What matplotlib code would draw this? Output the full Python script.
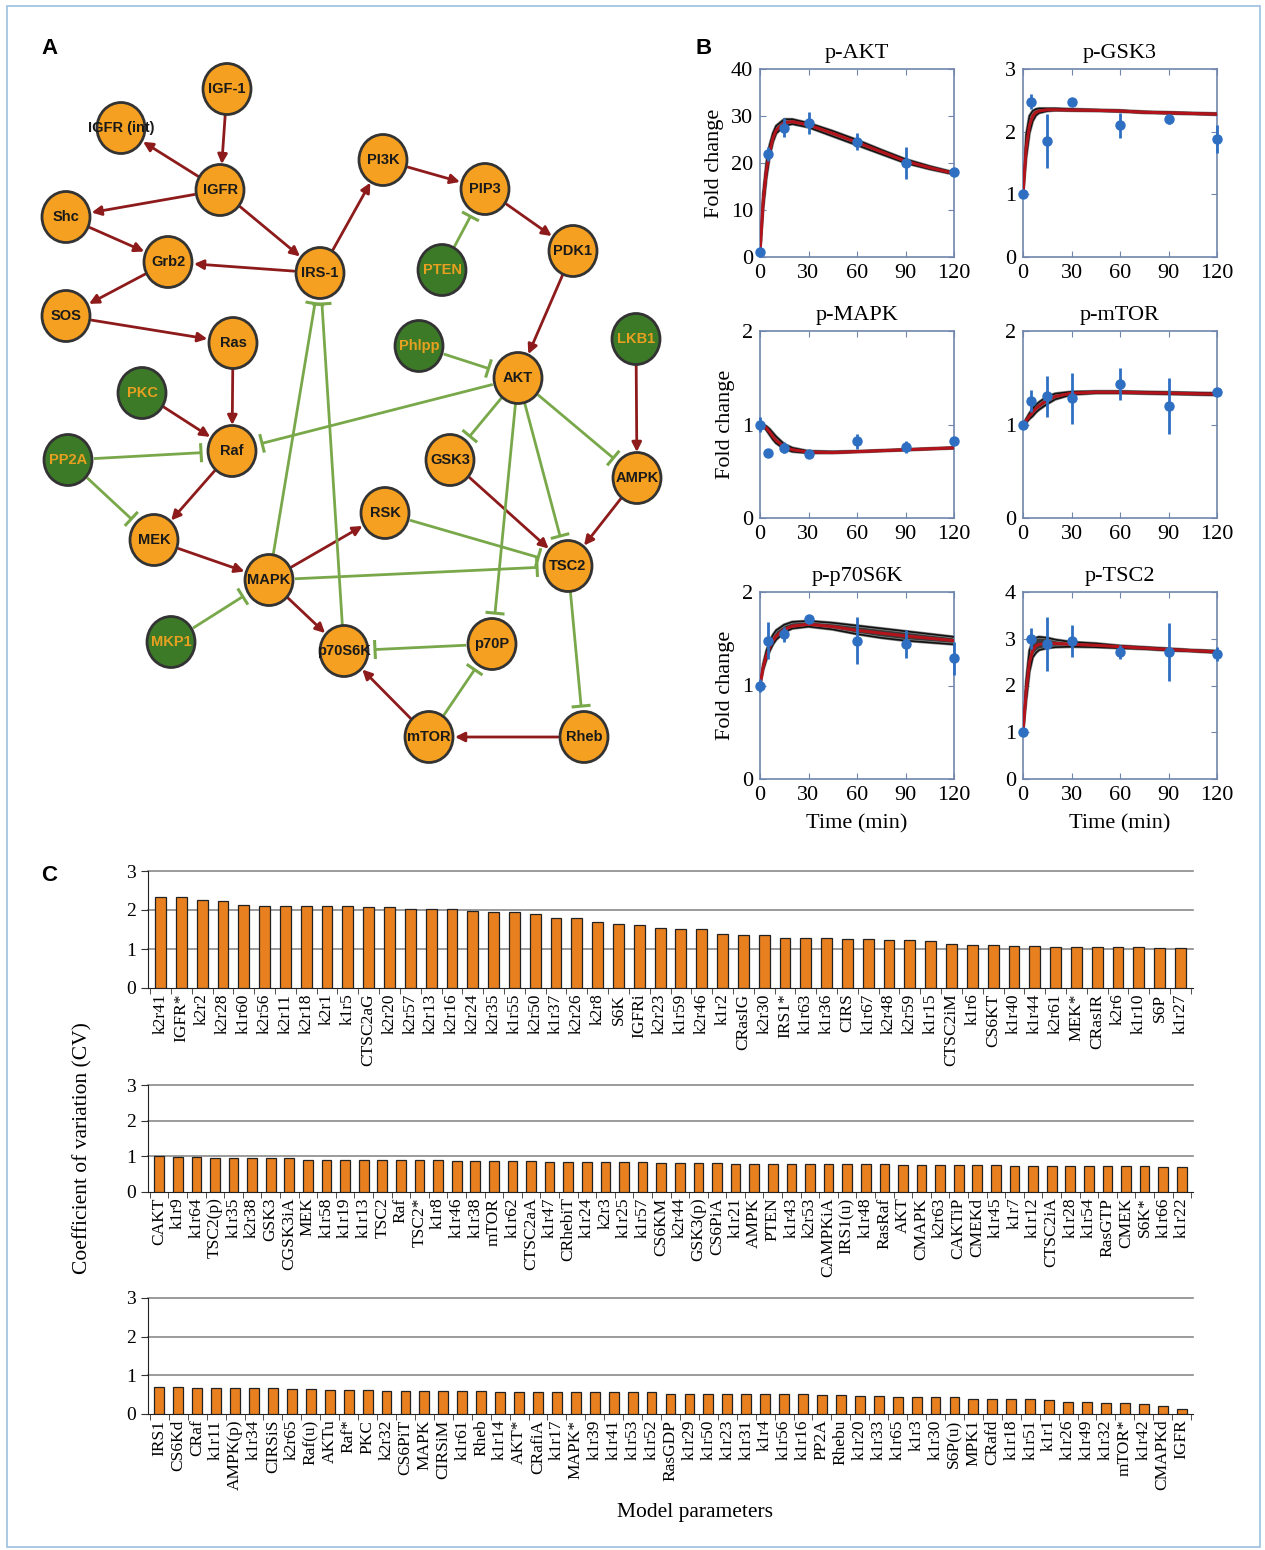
import matplotlib
matplotlib.use('Agg')
import matplotlib.pyplot as plt
from matplotlib.patches import Ellipse, FancyArrowPatch, Rectangle
import numpy as np

plt.rcParams['font.family'] = ['Liberation Serif', 'DejaVu Serif']

# ---------------- Panel A: network ----------------
act_nodes = ['IGF-1', 'IGFR (int)', 'IGFR', 'Shc', 'Grb2', 'SOS', 'IRS-1', 'PI3K', 'PIP3', 'PDK1',
             'Ras', 'AKT', 'Raf', 'GSK3', 'AMPK', 'MEK', 'RSK', 'MAPK', 'TSC2', 'p70S6K', 'p70P',
             'mTOR', 'Rheb']
inh_nodes = ['PTEN', 'PKC', 'Phlpp', 'LKB1', 'PP2A', 'MKP1']
activations = [('IGF-1', 'IGFR'), ('IGFR', 'IGFR (int)'), ('IGFR', 'Shc'), ('IGFR', 'IRS-1'),
               ('Shc', 'Grb2'), ('IRS-1', 'Grb2'), ('Grb2', 'SOS'), ('SOS', 'Ras'),
               ('IRS-1', 'PI3K'), ('PI3K', 'PIP3'), ('PIP3', 'PDK1'), ('PDK1', 'AKT'),
               ('Ras', 'Raf'), ('PKC', 'Raf'), ('Raf', 'MEK'), ('MEK', 'MAPK'), ('MAPK', 'RSK'),
               ('MAPK', 'p70S6K'), ('LKB1', 'AMPK'), ('GSK3', 'TSC2'), ('AMPK', 'TSC2'),
               ('Rheb', 'mTOR'), ('mTOR', 'p70S6K')]
inhibitions = [('PTEN', 'PIP3'), ('Phlpp', 'AKT'), ('AKT', 'Raf'), ('PP2A', 'Raf'), ('PP2A', 'MEK'),
               ('AKT', 'GSK3'), ('AKT', 'AMPK'), ('AKT', 'TSC2'), ('AKT', 'p70P'),
               ('MAPK', 'IRS-1'), ('p70S6K', 'IRS-1'), ('RSK', 'TSC2'), ('MAPK', 'TSC2'),
               ('MKP1', 'MAPK'), ('p70P', 'p70S6K'), ('mTOR', 'p70P'), ('TSC2', 'Rheb')]

# layout (pixel positions of node centres)
layout = {'IGF-1': (227, 89), 'IGFR (int)': (121, 128), 'IGFR': (220, 190), 'Shc': (66, 217),
          'Grb2': (168, 262), 'SOS': (66, 316), 'IRS-1': (320, 273), 'PI3K': (383, 160),
          'PIP3': (485, 189), 'PDK1': (573, 251), 'PTEN': (442, 270), 'Ras': (233, 343),
          'PKC': (142, 393), 'Phlpp': (419, 346), 'AKT': (518, 378), 'LKB1': (636, 339),
          'Raf': (232, 451), 'PP2A': (68, 460), 'GSK3': (450, 460), 'AMPK': (637, 478),
          'MEK': (154, 540), 'RSK': (385, 513), 'MAPK': (269, 580), 'TSC2': (568, 566),
          'MKP1': (171, 642), 'p70S6K': (344, 651), 'p70P': (492, 644), 'mTOR': (429, 737),
          'Rheb': (584, 737)}

# ---------------- Panel B: time courses ----------------
t_data = [0, 5, 15, 30, 60, 90, 120]
t_model = [0, 2, 4, 6, 8, 10, 15, 20, 30, 45, 60, 75, 90, 105, 120]

akt_data = [1, 22, 27.5, 28.5, 24.5, 20, 18]
akt_err = [0.3, 1.5, 2.0, 2.3, 1.8, 3.5, 0.5]
akt_mean = [1, 12, 18.5, 22.5, 25.3, 27, 28.6, 28.8, 28.1, 26.3, 24.4, 22.4, 20.4, 19.0, 17.8]
akt_lo = [1, 10.5, 17, 21.5, 24.5, 26.3, 27.9, 28.3, 27.6, 25.7, 23.8, 21.9, 20.0, 18.7, 17.6]
akt_hi = [1, 13.5, 20, 23.8, 26.3, 27.9, 29.3, 29.3, 28.5, 26.8, 24.9, 22.8, 20.8, 19.3, 18.0]

gsk_data = [1.0, 2.48, 1.85, 2.48, 2.1, 2.2, 1.88]
gsk_err = [0.05, 0.12, 0.43, 0.02, 0.2, 0.08, 0.22]
gsk_mean = [1, 1.75, 2.1, 2.25, 2.31, 2.33, 2.35, 2.35, 2.345, 2.34, 2.33, 2.31, 2.30, 2.29, 2.28]
gsk_lo = [1, 1.6, 1.98, 2.17, 2.26, 2.3, 2.33, 2.34, 2.335, 2.33, 2.32, 2.30, 2.29, 2.28, 2.27]
gsk_hi = [1, 1.95, 2.25, 2.33, 2.36, 2.37, 2.37, 2.37, 2.36, 2.35, 2.34, 2.32, 2.31, 2.30, 2.29]

mapk_data = [1.0, 0.69, 0.75, 0.68, 0.82, 0.76, 0.82]
mapk_err = [0.08, 0.02, 0.06, 0.03, 0.08, 0.06, 0.02]
mapk_mean = [1, 0.99, 0.96, 0.92, 0.87, 0.83, 0.76, 0.73, 0.705, 0.70, 0.71, 0.72, 0.73, 0.74, 0.75]
mapk_lo = [1, 0.98, 0.94, 0.89, 0.84, 0.80, 0.74, 0.71, 0.695, 0.695, 0.705, 0.715, 0.725, 0.735, 0.745]
mapk_hi = [1, 1.0, 0.98, 0.95, 0.91, 0.87, 0.79, 0.75, 0.715, 0.71, 0.715, 0.725, 0.735, 0.745, 0.755]

mtor_data = [1.0, 1.25, 1.3, 1.28, 1.43, 1.2, 1.35]
mtor_err = [0.02, 0.12, 0.22, 0.27, 0.17, 0.3, 0.02]
mtor_mean = [1, 1.04, 1.09, 1.13, 1.17, 1.2, 1.26, 1.3, 1.335, 1.345, 1.345, 1.34, 1.335, 1.33, 1.325]
mtor_lo = [1, 1.02, 1.06, 1.09, 1.13, 1.16, 1.22, 1.27, 1.32, 1.335, 1.335, 1.33, 1.325, 1.32, 1.315]
mtor_hi = [1, 1.06, 1.12, 1.17, 1.21, 1.24, 1.3, 1.33, 1.35, 1.355, 1.355, 1.35, 1.345, 1.34, 1.335]

s6k_data = [1.0, 1.48, 1.55, 1.71, 1.48, 1.44, 1.29]
s6k_err = [0.07, 0.2, 0.08, 0.02, 0.25, 0.15, 0.18]
s6k_mean = [1, 1.2, 1.32, 1.41, 1.48, 1.53, 1.6, 1.635, 1.655, 1.63, 1.59, 1.56, 1.53, 1.505, 1.48]
s6k_lo = [1, 1.17, 1.28, 1.37, 1.44, 1.49, 1.57, 1.61, 1.63, 1.6, 1.55, 1.51, 1.48, 1.46, 1.44]
s6k_hi = [1, 1.23, 1.37, 1.47, 1.54, 1.59, 1.65, 1.68, 1.69, 1.67, 1.64, 1.61, 1.58, 1.55, 1.52]

tsc_data = [1.0, 3.0, 2.88, 2.95, 2.72, 2.72, 2.68]
tsc_err = [0.05, 0.22, 0.58, 0.35, 0.15, 0.62, 0.15]
tsc_mean = [1, 1.9, 2.5, 2.75, 2.85, 2.88, 2.9, 2.9, 2.88, 2.86, 2.83, 2.8, 2.77, 2.745, 2.72]
tsc_lo = [1, 1.7, 2.3, 2.6, 2.7, 2.76, 2.8, 2.82, 2.83, 2.82, 2.8, 2.78, 2.75, 2.73, 2.7]
tsc_hi = [1, 2.1, 2.75, 2.95, 3.02, 3.04, 3.02, 2.98, 2.93, 2.9, 2.85, 2.82, 2.79, 2.76, 2.74]

titles_B = ['p-AKT', 'p-GSK3', 'p-MAPK', 'p-mTOR', 'p-p70S6K', 'p-TSC2']
ymax_B = [40, 3, 2, 2, 2, 4]
yticks_B = [[0, 10, 20, 30, 40], [0, 1, 2, 3], [0, 1, 2], [0, 1, 2], [0, 1, 2], [0, 1, 2, 3, 4]]
xticks_B = [0, 30, 60, 90, 120]

# ---------------- Panel C: CV bars ----------------
labels_c1 = ['k2r41', 'IGFR*', 'k2r2', 'k2r28', 'k1r60', 'k2r56', 'k2r11', 'k2r18', 'k2r1', 'k1r5',
             'CTSC2aG', 'k2r20', 'k2r57', 'k2r13', 'k2r16', 'k2r24', 'k2r35', 'k1r55', 'k2r50', 'k1r37',
             'k2r26', 'k2r8', 'S6K', 'IGFRi', 'k2r23', 'k1r59', 'k2r46', 'k1r2', 'CRasIG', 'k2r30',
             'IRS1*', 'k1r63', 'k1r36', 'CIRS', 'k1r67', 'k2r48', 'k2r59', 'k1r15', 'CTSC2iM', 'k1r6',
             'CS6KT', 'k1r40', 'k1r44', 'k2r61', 'MEK*', 'CRasIR', 'k2r6', 'k1r10', 'S6P', 'k1r27']
cv_c1 = [2.34, 2.34, 2.26, 2.24, 2.14, 2.11, 2.09, 2.09, 2.09, 2.09,
         2.07, 2.07, 2.02, 2.02, 2.02, 1.97, 1.94, 1.94, 1.91, 1.80,
         1.80, 1.69, 1.64, 1.62, 1.54, 1.51, 1.51, 1.39, 1.36, 1.36,
         1.29, 1.29, 1.29, 1.26, 1.26, 1.23, 1.22, 1.20, 1.13, 1.11,
         1.11, 1.08, 1.08, 1.06, 1.06, 1.06, 1.05, 1.05, 1.02, 1.02]
labels_c2 = ['CAKT', 'k1r9', 'k1r64', 'TSC2(p)', 'k1r35', 'k2r38', 'GSK3', 'CGSK3iA', 'MEK', 'k1r58',
             'k1r19', 'k1r13', 'TSC2', 'Raf', 'TSC2*', 'k1r8', 'k1r46', 'k1r38', 'mTOR', 'k1r62',
             'CTSC2aA', 'k1r47', 'CRhebiT', 'k1r24', 'k2r3', 'k1r25', 'k1r57', 'CS6KM', 'k2r44', 'GSK3(p)',
             'CS6PiA', 'k1r21', 'AMPK', 'PTEN', 'k1r43', 'k2r53', 'CAMPKiA', 'IRS1(u)', 'k1r48', 'RasRaf',
             'AKT', 'CMAPK', 'k2r63', 'CAKTiP', 'CMEKd', 'k1r45', 'k1r7', 'k1r12', 'CTSC2iA', 'k1r28',
             'k1r54', 'RasGTP', 'CMEK', 'S6K*', 'k1r66', 'k1r22']
cv_c2 = [1.01, 0.99, 0.99, 0.96, 0.96, 0.96, 0.94, 0.94, 0.90, 0.90,
         0.90, 0.89, 0.89, 0.89, 0.89, 0.89, 0.88, 0.88, 0.88, 0.88,
         0.88, 0.85, 0.85, 0.85, 0.85, 0.85, 0.85, 0.82, 0.82, 0.82,
         0.82, 0.79, 0.79, 0.79, 0.79, 0.79, 0.79, 0.79, 0.79, 0.79,
         0.76, 0.76, 0.75, 0.75, 0.75, 0.75, 0.73, 0.73, 0.73, 0.73,
         0.73, 0.73, 0.73, 0.73, 0.71, 0.71]
labels_c3 = ['IRS1', 'CS6Kd', 'CRaf', 'k1r11', 'AMPK(p)', 'k1r34', 'CIRSiS', 'k2r65', 'Raf(u)', 'AKTu',
             'Raf*', 'PKC', 'k2r32', 'CS6PiT', 'MAPK', 'CIRSiM', 'k1r61', 'Rheb', 'k1r14', 'AKT*',
             'CRafiA', 'k1r17', 'MAPK*', 'k1r39', 'k1r41', 'k1r53', 'k1r52', 'RasGDP', 'k1r29', 'k1r50',
             'k1r23', 'k1r31', 'k1r4', 'k1r56', 'k1r16', 'PP2A', 'Rhebu', 'k1r20', 'k1r33', 'k1r65',
             'k1r3', 'k1r30', 'S6P(u)', 'MPK1', 'CRafd', 'k1r18', 'k1r51', 'k1r1', 'k1r26', 'k1r49',
             'k1r32', 'mTOR*', 'k1r42', 'CMAPKd', 'IGFR']
cv_c3 = [0.69, 0.69, 0.67, 0.67, 0.67, 0.67, 0.67, 0.64, 0.64, 0.62,
         0.62, 0.62, 0.60, 0.60, 0.60, 0.60, 0.60, 0.60, 0.57, 0.57,
         0.57, 0.56, 0.56, 0.56, 0.56, 0.56, 0.56, 0.52, 0.52, 0.52,
         0.51, 0.51, 0.51, 0.51, 0.51, 0.48, 0.48, 0.46, 0.46, 0.43,
         0.43, 0.43, 0.43, 0.40, 0.40, 0.38, 0.38, 0.35, 0.31, 0.31,
         0.29, 0.29, 0.25, 0.20, 0.13]

# =====================================================================
W, H = 1265, 1550
fig = plt.figure(figsize=(W / 100, H / 100), dpi=100)

SANS = ['Liberation Sans', 'DejaVu Sans']
ORANGE = '#F5A020'
GREEN = '#3C7A28'
RED = '#8E1B1B'
LGREEN = '#79A84A'

axn = fig.add_axes([0, 0, 1, 1])
axn.set_xlim(0, W)
axn.set_ylim(H, 0)
axn.axis('off')

fig.patches.append(Rectangle((7 / W, 3 / H), 1 - 12 / W, 1 - 9 / H, transform=fig.transFigure,
                             fill=False, edgecolor='#9cbfe0', lw=1.2))

R = 26.0


def seg(a, b, ra, rb):
    p = np.array(layout[a], float)
    q = np.array(layout[b], float)
    u = (q - p) / np.linalg.norm(q - p)
    return p + u * ra, q - u * rb, u


for a, b in activations:
    p0, p1, u = seg(a, b, R, R)
    axn.add_patch(FancyArrowPatch(tuple(p0), tuple(p1), arrowstyle='-|>', mutation_scale=14,
                                  color=RED, lw=2.0, shrinkA=0, shrinkB=0, zorder=2))

for a, b in inhibitions:
    p0, p1, u = seg(a, b, R, R + 5)
    axn.plot([p0[0], p1[0]], [p0[1], p1[1]], color=LGREEN, lw=2.0, zorder=2, solid_capstyle='butt')
    n = np.array([-u[1], u[0]]) * 8
    axn.plot([p1[0] - n[0], p1[0] + n[0]], [p1[1] - n[1], p1[1] + n[1]], color=LGREEN, lw=2.2, zorder=2)

for name in act_nodes + inh_nodes:
    x, y = layout[name]
    is_inh = name in inh_nodes
    axn.add_patch(Ellipse((x, y), 48, 51, facecolor=GREEN if is_inh else ORANGE,
                          edgecolor='#333333', lw=2.0, zorder=3))
    axn.text(x, y, name, ha='center', va='center', family=SANS, fontweight='bold', fontsize=10.5,
             color='#E8A020' if is_inh else '#1a1a1a', zorder=4)

fig.text(41 / W, 1 - 48 / H, 'A', family=SANS, fontweight='bold', fontsize=16, va='center')
fig.text(695 / W, 1 - 48 / H, 'B', family=SANS, fontweight='bold', fontsize=16, va='center')
fig.text(41 / W, 1 - 875 / H, 'C', family=SANS, fontweight='bold', fontsize=16, va='center')

# ---------------- Panel B ----------------
FRAME = '#7186ad'
BLUE = '#2f6fc2'
series_B = [(akt_data, akt_err, akt_mean, akt_lo, akt_hi),
            (gsk_data, gsk_err, gsk_mean, gsk_lo, gsk_hi),
            (mapk_data, mapk_err, mapk_mean, mapk_lo, mapk_hi),
            (mtor_data, mtor_err, mtor_mean, mtor_lo, mtor_hi),
            (s6k_data, s6k_err, s6k_mean, s6k_lo, s6k_hi),
            (tsc_data, tsc_err, tsc_mean, tsc_lo, tsc_hi)]
lefts = [760, 1023]
tops = [69, 331, 592]
bottoms = [257, 518, 779]
for i, (d, e, m, lo, hi) in enumerate(series_B):
    r, c = divmod(i, 2)
    x0 = lefts[c]
    w = 194
    ax = fig.add_axes([x0 / W, 1 - bottoms[r] / H, w / W, (bottoms[r] - tops[r]) / H])
    ax.fill_between(t_model, lo, hi, color='#3a3a3a', lw=0, zorder=2)
    ax.plot(t_model, hi, color='#8a8a8a', lw=2.2, zorder=2.5)
    ax.plot(t_model, lo, color='#8a8a8a', lw=2.2, zorder=2.5)
    ax.plot(t_model, hi, color='#111111', lw=1.2, zorder=2.6)
    ax.plot(t_model, lo, color='#111111', lw=1.2, zorder=2.6)
    ax.plot(t_model, m, color='#b3131b', lw=2.2, zorder=3)
    ax.errorbar(t_data, d, yerr=e, fmt='o', color=BLUE, ms=6.5, elinewidth=2, capsize=0,
                zorder=4, clip_on=False)
    ax.set_xlim(0, 120)
    ax.set_ylim(0, ymax_B[i])
    ax.set_xticks(xticks_B)
    ax.set_yticks(yticks_B[i])
    ax.tick_params(direction='in', length=4, color=FRAME, top=True, right=True,
                   labelsize=16, pad=5)
    for s in ax.spines.values():
        s.set_color(FRAME)
        s.set_linewidth(1.2)
    ax.set_title(titles_B[i], fontsize=16, pad=8)
    if c == 0:
        ax.set_ylabel('Fold change', fontsize=16, labelpad=5)
    if r == 2:
        ax.set_xlabel('Time (min)', fontsize=16, labelpad=7)

# ---------------- Panel C ----------------
BAR = '#E9801F'
rows_C = [(labels_c1, cv_c1, 871, 988), (labels_c2, cv_c2, 1085, 1192), (labels_c3, cv_c3, 1298, 1414)]
for labels, vals, top, bot in rows_C:
    n = len(labels)
    ax = fig.add_axes([148 / W, 1 - bot / H, (1193 - 148) / W, (bot - top) / H])
    x = np.arange(n)
    ax.bar(x, vals, width=0.52, color=BAR, edgecolor='#222222', lw=0.9, zorder=3)
    for yv in [1, 2, 3]:
        ax.axhline(yv, color='#8a8a8a', lw=1.2, zorder=1, clip_on=False)
    ax.set_xlim(-0.6, n - 0.4)
    ax.set_ylim(0, 3)
    ax.set_yticks([0, 1, 2, 3])
    ax.set_xticks(x)
    ax.set_xticklabels(labels, rotation=90, fontsize=12.5)
    ax.set_xticks(np.arange(-0.5, n, 1), minor=True)
    ax.tick_params(axis='x', which='major', length=0, pad=4)
    ax.tick_params(axis='x', which='minor', length=4, direction='out', color='#333333')
    ax.tick_params(axis='y', length=5, direction='out', labelsize=14, color='#333333')
    for s in ['top', 'right']:
        ax.spines[s].set_visible(False)
    ax.spines['left'].set_color('#222222')
    ax.spines['bottom'].set_color('#222222')

fig.text(83 / W, 1 - 1148 / H, 'Coefficient of variation (CV)', rotation=90, fontsize=15.5,
         ha='center', va='center')
fig.text(695 / W, 1 - 1512 / H, 'Model parameters', fontsize=15.5, ha='center', va='center')

fig.savefig('out.png', dpi=100)
